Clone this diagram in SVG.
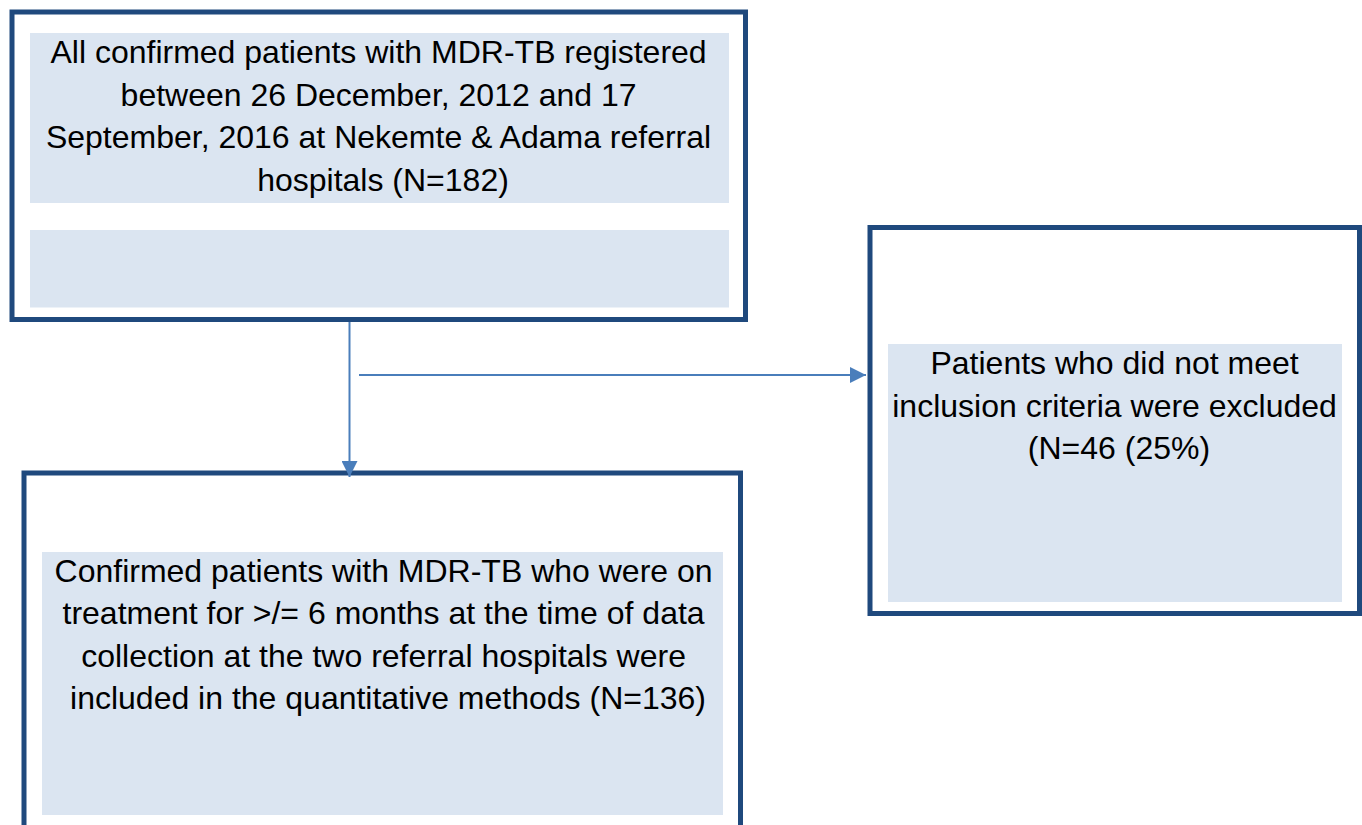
<svg xmlns="http://www.w3.org/2000/svg" width="1362" height="825" viewBox="0 0 1362 825">
  <style>
    .frame { fill: #FFFFFF; stroke: #1F497D; stroke-width: 5; }
    .panel { fill: #DBE5F1; stroke: none; }
    .label { font-family: "Liberation Sans", Arial, sans-serif; font-size: 32px; fill: #000000; text-anchor: middle; }
    .link { fill: none; stroke: #4A7EBB; stroke-width: 2; }
  </style>
  <defs>
    <marker id="arrowhead" viewBox="0 0 16 16" refX="16" refY="8" markerWidth="16" markerHeight="16" markerUnits="userSpaceOnUse" orient="auto">
      <path d="M0,0 L16,8 L0,16 z" fill="#4A7EBB"/>
    </marker>
  </defs>

  <!-- Registered patients -->
  <g id="node-registered">
    <rect class="frame" x="12" y="12" width="733.5" height="307.5"/>
    <rect class="panel" x="30" y="33" width="699" height="170"/>
    <rect class="panel" x="30" y="230" width="699" height="77.5"/>
    <text class="label">
      <tspan x="383" y="63">All confirmed patients with MDR-TB registered</tspan>
      <tspan x="383" y="105.5">between 26 December, 2012 and 17</tspan>
      <tspan x="383" y="148">September, 2016 at Nekemte &amp; Adama referral</tspan>
      <tspan x="383" y="190.5">hospitals (N=182)</tspan>
    </text>
  </g>

  <!-- Excluded patients -->
  <g id="node-excluded">
    <rect class="frame" x="870" y="227.5" width="489.5" height="386"/>
    <rect class="panel" x="888" y="344" width="454" height="258"/>
    <text class="label">
      <tspan x="1119" y="374">Patients who did not meet</tspan>
      <tspan x="1119" y="416.5">inclusion criteria were excluded</tspan>
      <tspan x="1119" y="459">(N=46 (25%)</tspan>
    </text>
  </g>

  <!-- Included patients -->
  <g id="node-included">
    <rect class="frame" x="24" y="473" width="716.5" height="380"/>
    <rect class="panel" x="42" y="552" width="681" height="263"/>
    <text class="label">
      <tspan x="388" y="581.5">Confirmed patients with MDR-TB who were on</tspan>
      <tspan x="388" y="624">treatment for &gt;/= 6 months at the time of data</tspan>
      <tspan x="388" y="666.5">collection at the two referral hospitals were</tspan>
      <tspan x="388" y="709">included in the quantitative methods (N=136)</tspan>
    </text>
  </g>

  <!-- Connectors -->
  <g id="connectors">
    <line class="link" x1="349.5" y1="322" x2="349.5" y2="477" marker-end="url(#arrowhead)"/>
    <line class="link" x1="359" y1="375" x2="866" y2="375" marker-end="url(#arrowhead)"/>
  </g>
</svg>
